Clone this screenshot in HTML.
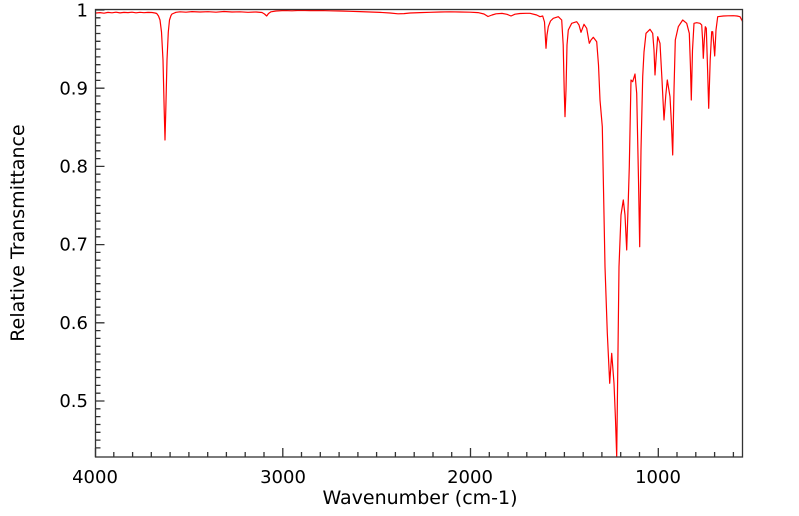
<!DOCTYPE html>
<html><head><meta charset="utf-8"><style>
html,body{margin:0;padding:0;background:#fff;}
svg{display:block;font-family:"DejaVu Sans","Liberation Sans",sans-serif;}
</style></head><body>
<svg width="799" height="516" viewBox="0 0 799 516" xmlns="http://www.w3.org/2000/svg">
<rect x="0" y="0" width="799" height="516" fill="#fff"/>
<polyline fill="none" stroke="#ff0000" stroke-width="1.2" stroke-linejoin="round" points="
96,13 100,12.6 104,13.2 108,12.4 112,12.8 116,12.2 120,12.9 124,12.4 128,12.6 132,12.2 136,12.8 140,12.3 144,12.7 148,12.4 152,12.5 155,13 156.7,13.5 158.5,16 160,20 161.5,32 163,60 164.2,110 165,140 165.8,110 167,60 168.3,32 169.5,20 171,15.5 172,14 176,12.3 180,11.8 186,12.2 192,11.6 200,12 208,11.7 216,12.2 224,11.5 232,12 240,11.8 248,12.3 256,12 262,12.5 264.5,14 266.7,16 268.5,13.5 271,11.8 276,11 284,10.5 292,10.8 300,10.4 310,10.6 320,10.5 330,10.8 340,11 350,11.3 360,11.6 370,12 380,12.4 390,13 398,13.8 404,13.6 410,13 420,12.6 430,12.3 440,12 450,11.8 460,12 470,12.2 478,12.6 484,14 488,16.5 492,15 496,13.8 502,13.4 507,14.3 511,16 515,14.2 520,13.5 526,13.3 530,13.3 536.7,15 540,16.7 542.7,16 544.5,22 546,48.3 547,35 548.3,26.7 550.5,21 553.3,18.3 558.3,16.7 561.7,20 563.2,45 564.2,90 565,116.7 566,90 567,45 568.3,30 571.7,23.3 576.7,21.7 579,25 581,32.3 584,24.3 586.7,28.3 589.3,43.3 591,40 593.3,37.3 596.7,41.7 598.5,65 600,100 602.3,126.7 605,266.7 607.3,333 609.7,383.3 611.7,353.3 614,383.3 615.5,420 616.7,456.7 618,350 619,266.7 621,215 623.3,200 625,215 626.7,250 628.3,200 629.3,166.7 631,80 632.7,81.7 635,74 636.7,93.3 638.5,180 639.7,246.7 641,150 642.7,76.7 644,52 646,33.3 650,29.3 652.7,33.3 654,50 655,75 656.3,55 657.7,36.7 660,43.3 662,80 664,120 665.8,95 667.3,80 670,96.7 671.5,125 672.7,155 674,90 675.3,40 678.3,26.7 682.7,20 686.7,23.3 689.3,33.3 690.4,65 691.3,100 692.5,50 694,23.3 696.7,22.7 700,23.3 701.7,25 702.6,40 703.3,58.3 704.3,40 705.3,26.7 706.3,28.3 707.6,70 708.7,108.3 710.2,60 711.7,31.7 712.7,31.7 713.8,45 714.7,56 716,30 717.7,16.7 723.3,16 728,15.8 733.3,15.7 737,16 740,16.7 742.7,21.7"/>
<rect x="95.5" y="9.5" width="647" height="447.5" fill="none" stroke="#333" stroke-width="1.3"/>
<path stroke="#333" stroke-width="1.3" fill="none" d="
M95.5,457v-9 M113.8,457v-5 M132.6,457v-5 M151.3,457v-5 M170.1,457v-5 M188.9,457v-5 M207.7,457v-5 M226.4,457v-5 M245.2,457v-5 M264,457v-5
M282.8,457v-9 M301.5,457v-5 M320.3,457v-5 M339.1,457v-5 M357.9,457v-5 M376.6,457v-5 M395.4,457v-5 M414.2,457v-5 M433,457v-5 M451.7,457v-5
M470.5,457v-9 M489.3,457v-5 M508.1,457v-5 M526.8,457v-5 M545.6,457v-5 M564.4,457v-5 M583.2,457v-5 M601.9,457v-5 M620.7,457v-5 M639.5,457v-5
M658.3,457v-9 M677,457v-5 M695.8,457v-5 M714.6,457v-5 M733.4,457v-5
M95.5,10h9 M95.5,17.8h5 M95.5,25.6h5 M95.5,33.5h5 M95.5,41.3h5 M95.5,49.1h5 M95.5,56.9h5 M95.5,64.7h5 M95.5,72.6h5 M95.5,80.4h5
M95.5,88.2h9 M95.5,96h5 M95.5,103.8h5 M95.5,111.7h5 M95.5,119.5h5 M95.5,127.3h5 M95.5,135.1h5 M95.5,142.9h5 M95.5,150.8h5 M95.5,158.6h5
M95.5,166.4h9 M95.5,174.2h5 M95.5,182h5 M95.5,189.9h5 M95.5,197.7h5 M95.5,205.5h5 M95.5,213.3h5 M95.5,221.1h5 M95.5,229h5 M95.5,236.8h5
M95.5,244.6h9 M95.5,252.4h5 M95.5,260.2h5 M95.5,268.1h5 M95.5,275.9h5 M95.5,283.7h5 M95.5,291.5h5 M95.5,299.3h5 M95.5,307.2h5 M95.5,315h5
M95.5,322.8h9 M95.5,330.6h5 M95.5,338.4h5 M95.5,346.3h5 M95.5,354.1h5 M95.5,361.9h5 M95.5,369.7h5 M95.5,377.5h5 M95.5,385.4h5 M95.5,393.2h5
M95.5,401h9 M95.5,408.8h5 M95.5,416.6h5 M95.5,424.5h5 M95.5,432.3h5 M95.5,440.1h5 M95.5,447.9h5"/>
<g font-size="18" fill="#000" text-anchor="end">
<text x="88" y="16.5">1</text>
<text x="88" y="94.5">0.9</text>
<text x="88" y="172.5">0.8</text>
<text x="88" y="250.5">0.7</text>
<text x="88" y="329">0.6</text>
<text x="88" y="407">0.5</text>
</g>
<g font-size="18" fill="#000" text-anchor="middle">
<text x="95" y="483">4000</text>
<text x="283" y="483">3000</text>
<text x="470" y="483">2000</text>
<text x="658" y="483">1000</text>
</g>
<g font-size="19" fill="#000" text-anchor="middle">
<text x="420" y="504">Wavenumber (cm-1)</text>
<text transform="translate(24,233) rotate(-90)">Relative Transmittance</text>
</g>
</svg>
</body></html>
